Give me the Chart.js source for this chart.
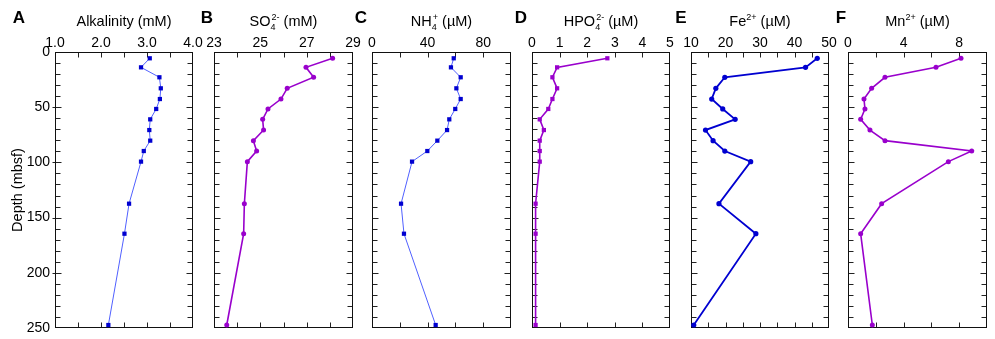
<!DOCTYPE html>
<html><head><meta charset="utf-8">
<script src="https://cdn.jsdelivr.net/npm/chart.js@4/dist/chart.umd.min.js"></script>
<style>
html,body{margin:0;padding:0;background:#fff;}
#wrap{position:relative;width:995px;height:339px;overflow:hidden;font-family:"Liberation Sans",Arial,sans-serif;background:#fff;}
canvas{position:absolute;top:0;}
.ttl{position:absolute;top:12px;font-size:14.5px;line-height:18px;text-align:center;color:#000;white-space:nowrap;}
.ttl sub,.ttl sup{font-size:9px;line-height:0;position:relative;vertical-align:baseline;}
.ttl sub{top:4px;}
.ttl sup{top:-6px;}
.ttl sub + sup{margin-left:-4px;}
.lt{position:absolute;top:8px;font-size:17px;font-weight:bold;line-height:20px;width:30px;margin-left:-15px;text-align:center;color:#000;}
</style></head>
<body><div id="wrap"></div>
<script>
// ---- data ----
const depth      = [5.7, 13.9, 22.9, 32.9, 42.6, 51.6, 61.0, 70.7, 80.3, 89.7, 99.3, 137.4, 164.6, 247.3];
const alkalinity = [3.06, 2.87, 3.27, 3.30, 3.28, 3.20, 3.07, 3.05, 3.07, 2.93, 2.87, 2.61, 2.51, 2.16];
const sulfate    = [28.12, 26.97, 27.30, 26.16, 25.89, 25.33, 25.10, 25.14, 24.70, 24.84, 24.44, 24.31, 24.28, 23.55];
const ammonium   = [58.8, 56.8, 63.8, 60.7, 63.8, 59.9, 55.6, 54.0, 47.0, 39.8, 28.8, 20.9, 23.0, 45.8];
const phosphate  = [2.73, 0.91, 0.74, 0.91, 0.74, 0.59, 0.28, 0.43, 0.28, 0.28, 0.28, 0.13, 0.13, 0.13];
const iron       = [46.6, 43.2, 19.8, 17.2, 16.0, 19.2, 22.8, 14.2, 16.4, 19.8, 27.3, 18.1, 28.8, 10.8];
const manganese  = [8.13, 6.33, 2.66, 1.70, 1.15, 1.22, 0.91, 1.58, 2.66, 8.90, 7.22, 2.42, 0.91, 1.75];

const depthTicks = [0, 50, 100, 150, 200, 250];
const alkTicks   = [1, 2, 3, 4];
const so4Ticks   = [23, 25, 27, 29];
const nh4Ticks   = [0, 40, 80];
const hpo4Ticks  = [0, 1, 2, 3, 4, 5];
const feTicks    = [10, 20, 30, 40, 50];
const mnTicks    = [0, 4, 8];

const FONT = '"Liberation Sans", Arial, sans-serif';
Chart.defaults.font.family = FONT;
Chart.defaults.color = '#000';

const BLUE = '#0000d0', LBLUE = '#5060ff', PURPLE = '#9900cc';

const panels = [
  {id:'A', title:'Alkalinity (mM)', values:alkalinity, min:1, max:4, labels:alkTicks, minor:0.5, fmt:v=>v.toFixed(1), color:BLUE, line:LBLUE, lw:1, style:'rect', r:3, left:55, right:193, lx:19},
  {id:'B', title:'SO<sub>4</sub><sup>2-</sup> (mM)', values:sulfate, min:23, max:29, labels:so4Ticks, minor:1, fmt:v=>String(v), color:PURPLE, line:PURPLE, lw:1.6, style:'circle', r:2.5, left:214, right:353, lx:207},
  {id:'C', title:'NH<sub>4</sub><sup>+</sup> (µM)', values:ammonium, min:0, max:100, labels:nh4Ticks, minor:20, fmt:v=>String(v), color:BLUE, line:LBLUE, lw:1, style:'rect', r:3, left:372, right:511, lx:361},
  {id:'D', title:'HPO<sub>4</sub><sup>2-</sup> (µM)', values:phosphate, min:0, max:5, labels:hpo4Ticks, minor:1, fmt:v=>String(v), color:PURPLE, line:PURPLE, lw:1.6, style:'rect', r:3, left:532, right:670, lx:521},
  {id:'E', title:'Fe<sup>2+</sup> (µM)', values:iron, min:10, max:50, labels:feTicks, minor:5, fmt:v=>String(v), color:BLUE, line:BLUE, lw:1.8, style:'circle', r:2.6, left:691, right:829, lx:681},
  {id:'F', title:'Mn<sup>2+</sup> (µM)', values:manganese, min:0, max:10, labels:mnTicks, minor:2, fmt:v=>String(v), color:PURPLE, line:PURPLE, lw:1.6, style:'circle', r:2.5, left:848, right:987, lx:841}
];

const frame = {
  id:'frame',
  beforeDatasetsDraw(chart){
    const o = chart.options.plugins.frame;
    const {ctx, chartArea:a} = chart;
    const xs = chart.scales.x, ys = chart.scales.y;
    const L = Math.round(a.left)+0.5, R = Math.round(a.right)-0.5, T = Math.round(a.top)+0.5, B = Math.round(a.bottom)-0.5;
    ctx.save();
    ctx.strokeStyle = '#222';
    ctx.lineWidth = 1;
    ctx.beginPath();
    const n = Math.round((o.max - o.min)/o.minor);
    for (let i=1;i<n;i++){
      const px = Math.round(xs.getPixelForValue(o.min + i*o.minor))+0.5;
      ctx.moveTo(px, T); ctx.lineTo(px, T+5);
      ctx.moveTo(px, B); ctx.lineTo(px, B-5);
    }
    for (let d=10; d<250; d+=10){
      const py = Math.round(ys.getPixelForValue(d))+0.5;
      const len = (d%50===0)?6:5;
      ctx.moveTo(L, py); ctx.lineTo(L+len, py);
      ctx.moveTo(R, py); ctx.lineTo(R-len, py);
      if (o.outer && d%50===0){ ctx.moveTo(L, py); ctx.lineTo(L-3, py); }
    }
    ctx.stroke();
    ctx.strokeStyle = '#111';
    ctx.strokeRect(L, T, R-L, B-T);
    ctx.restore();
  }
};

const wrap = document.getElementById('wrap');
const OFF = 45;

panels.forEach(p=>{
  const isA = p.id==='A';
  const leftPx = isA ? 0 : p.left - OFF;
  const padL = isA ? 0 : OFF;
  const w = (p.right - leftPx) + OFF;
  const cv = document.createElement('canvas');
  cv.width = w; cv.height = 339;
  cv.style.left = leftPx+'px'; cv.style.width = w+'px'; cv.style.height = '339px';
  wrap.appendChild(cv);

  const t = document.createElement('div');
  t.className = 'ttl';
  t.style.left = p.left+'px';
  t.style.width = (p.right-p.left)+'px';
  t.innerHTML = p.title;
  wrap.appendChild(t);

  const l = document.createElement('div');
  l.className = 'lt';
  l.style.left = p.lx+'px';
  l.textContent = p.id;
  wrap.appendChild(l);

  new Chart(cv, {
    type:'scatter',
    data:{datasets:[{
      data: depth.map((d,k)=>({x:p.values[k], y:d})),
      showLine:true, tension:0,
      borderColor:p.line, borderWidth:p.lw,
      pointStyle:p.style, pointRadius:p.r, pointHoverRadius:p.r,
      pointBackgroundColor:p.color, pointBorderWidth:0,
      clip:false
    }]},
    options:{
      responsive:false, maintainAspectRatio:false, animation:false, devicePixelRatio:1, events:[],
      layout:{autoPadding:false, padding:{left:padL, right:OFF, top:0, bottom:11}},
      plugins:{legend:{display:false}, tooltip:{enabled:false},
        frame:{min:p.min, max:p.max, minor:p.minor, outer:isA}},
      scales:{
        x:{type:'linear', position:'top', min:p.min, max:p.max,
          afterBuildTicks:s=>{ s.ticks = p.labels.map(v=>({value:v})); },
          afterFit:s=>{ s.height = 52; },
          grid:{display:false, drawTicks:false}, border:{display:false},
          ticks:{padding:0, color:'#000', font:{size:14}, maxRotation:0, autoSkip:false, callback:v=>p.fmt(v)}},
        y:{type:'linear', reverse:true, min:0, max:250, display:isA,
          afterBuildTicks:s=>{ s.ticks = depthTicks.map(v=>({value:v})); },
          afterFit:s=>{ if (isA) { s.width = 55; s.paddingTop = 0; s.paddingBottom = 0; } },
          grid:{display:false, drawTicks:false}, border:{display:false},
          ticks:{padding:5, color:'#000', font:{size:14}, autoSkip:false},
          title:{display:true, text:'Depth (mbsf)', color:'#000', font:{size:14.5}, padding:{top:9, bottom:0}}}
      }
    },
    plugins:[frame]
  });
});
</script>
</body></html>
